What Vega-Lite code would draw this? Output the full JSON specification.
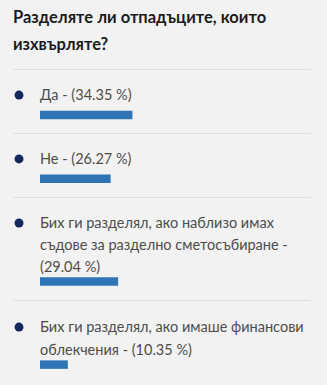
{
  "$schema": "https://vega.github.io/schema/vega-lite/v6.json",
  "background": "#f2f2f2",
  "padding": {"left": 13, "right": 17, "top": 9, "bottom": 0},
  "autosize": {"type": "pad"},
  "title": {
    "text": ["Разделяте ли отпадъците, които", "изхвърляте?"],
    "anchor": "start",
    "font": "Lato",
    "fontSize": 16.5,
    "fontWeight": "bold",
    "color": "#1b1b1b",
    "lineHeight": 27,
    "offset": 16
  },
  "spacing": 0,
  "resolve": {"scale": {"y": "independent"}},
  "config": {"view": {"stroke": null}},
  "datasets": {
    "answers": [
      {"order": 1, "label": "Да - (34.35 %)", "pct": 34.35},
      {"order": 2, "label": "Не - (26.27 %)", "pct": 26.27},
      {"order": 3, "label": "Бих ги разделял, ако наблизо имах\nсъдове за разделно сметосъбиране -\n(29.04 %)", "pct": 29.04},
      {"order": 4, "label": "Бих ги разделял, ако имаше финансови\nоблекчения - (10.35 %)", "pct": 10.35}
    ]
  },
  "vconcat": [
    {
      "width": 297, "height": 64,
      "data": {"name": "answers"},
      "transform": [{"filter": "datum.order == 1"}],
      "layer": [
        {
          "mark": {"type": "bar", "orient": "horizontal", "height": 8.5, "color": "#2f75b5"},
          "encoding": {
            "x": {"field": "pct", "type": "quantitative", "scale": {"domain": [-10.04, 100.37], "nice": false, "zero": false},
                  "axis": {"orient": "top", "domainColor": "#dcdcdc", "domainWidth": 1, "ticks": false, "labels": false, "title": null, "grid": false}},
            "y": {"datum": 1, "type": "quantitative", "scale": {"domain": [-1.064, 1.66], "reverse": true, "nice": false, "zero": false}, "axis": null}
          }
        },
        {
          "mark": {"type": "circle", "size": 80, "opacity": 1, "color": "#13275a", "xOffset": -21},
          "encoding": {"x": {"datum": 0, "type": "quantitative"}, "y": {"datum": 0, "type": "quantitative"}}
        },
        {
          "mark": {"type": "text", "align": "left", "baseline": "alphabetic", "dy": 5, "font": "Lato", "fontSize": 14.5, "color": "#4d4d4d", "lineBreak": "\n", "lineHeight": 22},
          "encoding": {"x": {"datum": 0, "type": "quantitative"}, "y": {"datum": 0, "type": "quantitative"}, "text": {"field": "label", "type": "nominal"}}
        }
      ]
    },
    {
      "width": 297, "height": 64,
      "data": {"name": "answers"},
      "transform": [{"filter": "datum.order == 2"}],
      "layer": [
        {
          "mark": {"type": "bar", "orient": "horizontal", "height": 8.5, "color": "#2f75b5"},
          "encoding": {
            "x": {"field": "pct", "type": "quantitative", "scale": {"domain": [-10.04, 100.37], "nice": false, "zero": false},
                  "axis": {"orient": "top", "domainColor": "#dcdcdc", "domainWidth": 1, "ticks": false, "labels": false, "title": null, "grid": false}},
            "y": {"datum": 1, "type": "quantitative", "scale": {"domain": [-1.05, 1.66], "reverse": true, "nice": false, "zero": false}, "axis": null}
          }
        },
        {
          "mark": {"type": "circle", "size": 80, "opacity": 1, "color": "#13275a", "xOffset": -21},
          "encoding": {"x": {"datum": 0, "type": "quantitative"}, "y": {"datum": 0, "type": "quantitative"}}
        },
        {
          "mark": {"type": "text", "align": "left", "baseline": "alphabetic", "dy": 5, "font": "Lato", "fontSize": 14.5, "color": "#4d4d4d", "lineBreak": "\n", "lineHeight": 22},
          "encoding": {"x": {"datum": 0, "type": "quantitative"}, "y": {"datum": 0, "type": "quantitative"}, "text": {"field": "label", "type": "nominal"}}
        }
      ]
    },
    {
      "width": 297, "height": 103,
      "data": {"name": "answers"},
      "transform": [{"filter": "datum.order == 3"}],
      "layer": [
        {
          "mark": {"type": "bar", "orient": "horizontal", "height": 8.5, "color": "#2f75b5"},
          "encoding": {
            "x": {"field": "pct", "type": "quantitative", "scale": {"domain": [-10.04, 100.37], "nice": false, "zero": false},
                  "axis": {"orient": "top", "domainColor": "#dcdcdc", "domainWidth": 1, "ticks": false, "labels": false, "title": null, "grid": false}},
            "y": {"datum": 3, "type": "quantitative", "scale": {"domain": [-1.08, 3.70], "reverse": true, "nice": false, "zero": false}, "axis": null}
          }
        },
        {
          "mark": {"type": "circle", "size": 80, "opacity": 1, "color": "#13275a", "xOffset": -21},
          "encoding": {"x": {"datum": 0, "type": "quantitative"}, "y": {"datum": 0, "type": "quantitative"}}
        },
        {
          "mark": {"type": "text", "align": "left", "baseline": "alphabetic", "dy": 5, "font": "Lato", "fontSize": 14.5, "color": "#4d4d4d", "lineBreak": "\n", "lineHeight": 22},
          "encoding": {"x": {"datum": 0, "type": "quantitative"}, "y": {"datum": 0, "type": "quantitative"}, "text": {"field": "label", "type": "nominal"}}
        }
      ]
    },
    {
      "width": 297, "height": 85,
      "data": {"name": "answers"},
      "transform": [{"filter": "datum.order == 4"}],
      "layer": [
        {
          "mark": {"type": "bar", "orient": "horizontal", "height": 8.5, "color": "#2f75b5"},
          "encoding": {
            "x": {"field": "pct", "type": "quantitative", "scale": {"domain": [-10.04, 100.37], "nice": false, "zero": false},
                  "axis": {"orient": "top", "domainColor": "#dcdcdc", "domainWidth": 1, "ticks": false, "labels": false, "title": null, "grid": false}},
            "y": {"datum": 2, "type": "quantitative", "scale": {"domain": [-1.176, 2.82], "reverse": true, "nice": false, "zero": false}, "axis": null}
          }
        },
        {
          "mark": {"type": "circle", "size": 80, "opacity": 1, "color": "#13275a", "xOffset": -21},
          "encoding": {"x": {"datum": 0, "type": "quantitative"}, "y": {"datum": 0, "type": "quantitative"}}
        },
        {
          "mark": {"type": "text", "align": "left", "baseline": "alphabetic", "dy": 5, "font": "Lato", "fontSize": 14.5, "color": "#4d4d4d", "lineBreak": "\n", "lineHeight": 22.5},
          "encoding": {"x": {"datum": 0, "type": "quantitative"}, "y": {"datum": 0, "type": "quantitative"}, "text": {"field": "label", "type": "nominal"}}
        }
      ]
    }
  ]
}
